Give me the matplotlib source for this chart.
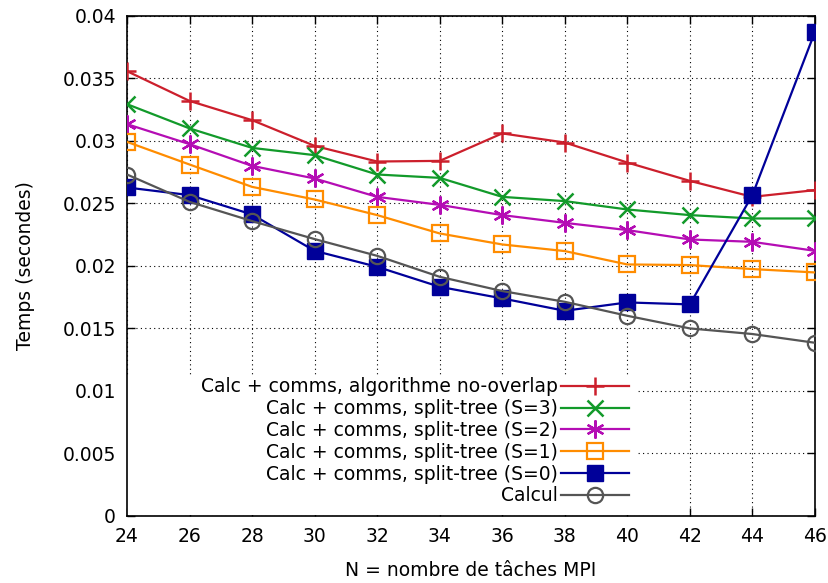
import matplotlib
matplotlib.use("Agg")
import matplotlib.pyplot as plt
from matplotlib.ticker import FixedLocator, FixedFormatter
from matplotlib.patches import Rectangle

n_tasks = [24, 26, 28, 30, 32, 34, 36, 38, 40, 42, 44, 46]

no_overlap = [0.03558, 0.0332, 0.03166, 0.0296, 0.02835, 0.0284, 0.0306, 0.02987, 0.02827, 0.0268, 0.02552, 0.02606]
split_s3 = [0.03294, 0.0310, 0.02944, 0.02886, 0.02731, 0.02704, 0.02552, 0.02518, 0.02451, 0.02406, 0.02379, 0.02379]
split_s2 = [0.03134, 0.02974, 0.0280, 0.02699, 0.02552, 0.02488, 0.02406, 0.02344, 0.02286, 0.02211, 0.02192, 0.0212]
split_s1 = [0.02992, 0.02811, 0.02632, 0.02531, 0.02406, 0.02259, 0.02171, 0.02118, 0.02011, 0.02006, 0.01974, 0.01947]
split_s0 = [0.02627, 0.02566, 0.02411, 0.0212, 0.01992, 0.01832, 0.01739, 0.0164, 0.01707, 0.01691, 0.02566, 0.03872]
calcul = [0.02731, 0.02512, 0.02358, 0.02214, 0.0208, 0.01912, 0.01798, 0.01712, 0.016, 0.01499, 0.01454, 0.01384]

labels = [
    "Calc + comms, algorithme no-overlap",
    "Calc + comms, split-tree (S=3)",
    "Calc + comms, split-tree (S=2)",
    "Calc + comms, split-tree (S=1)",
    "Calc + comms, split-tree (S=0)",
    "Calcul",
]

x_ticks = [24, 26, 28, 30, 32, 34, 36, 38, 40, 42, 44, 46]
y_ticks = [0, 0.005, 0.01, 0.015, 0.02, 0.025, 0.03, 0.035, 0.04]
y_tick_labels = ["0", "0.005", "0.01", "0.015", "0.02", "0.025", "0.03", "0.035", "0.04"]

FS = 13.5
plt.rcParams['font.family'] = ['DejaVu Sans']
fig = plt.figure(figsize=(8.29, 5.83), dpi=100)
ax = fig.add_axes([0.1532, 0.1155, 0.983 - 0.1532, 0.9726 - 0.1155])

series = [no_overlap, split_s3, split_s2, split_s1, split_s0, calcul]
colors = ['#cc1f2c', '#129a2a', '#b40db4', '#ff8c00', '#000099', '#555555']
styles = [
    dict(marker='+', markersize=13, markeredgewidth=1.8),
    dict(marker='x', markersize=11, markeredgewidth=1.8),
    dict(marker=(6, 2, 0), markersize=13, markeredgewidth=1.6),
    dict(marker='s', markersize=11, markeredgewidth=1.6, markerfacecolor='none'),
    dict(marker='s', markersize=11, markeredgewidth=1.0),
    dict(marker='o', markersize=11, markeredgewidth=1.6, markerfacecolor='none'),
]

for i, (ys, c, st, lab) in enumerate(zip(series, colors, styles, labels)):
    ax.plot(n_tasks, ys, color=c, lw=1.6, label=lab, zorder=3 + i, **st)

ax.set_xlim(24, 46)
ax.set_ylim(0, 0.04)
ax.xaxis.set_major_locator(FixedLocator(x_ticks))
ax.yaxis.set_major_locator(FixedLocator(y_ticks))
ax.yaxis.set_major_formatter(FixedFormatter(y_tick_labels))
ax.tick_params(direction='in', top=True, right=True, length=6, width=1, labelsize=FS, pad=8)
ax.grid(True, linestyle=(0, (1, 3)), color='black', lw=0.8)
for s in ax.spines.values():
    s.set_linewidth(1.2)

# white key area (hides grid behind the key, like the original)
ax.add_patch(Rectangle((127 / 829, 1 - 515 / 583), (638 - 127) / 829, (515 - 377) / 583,
                       transform=fig.transFigure, facecolor='white', edgecolor='none', zorder=2))

ax.set_xlabel("N = nombre de tâches MPI", fontsize=FS, labelpad=11)
ax.set_ylabel("Temps (secondes)", fontsize=FS, labelpad=20)

leg = ax.legend(loc='center right', bbox_to_anchor=(629 / 829, 1 - 441.3 / 583),
                bbox_transform=fig.transFigure, markerfirst=False, fontsize=FS,
                handlelength=3.6, handletextpad=0.2, labelspacing=0.15,
                borderpad=0.0, borderaxespad=0, frameon=True, fancybox=False,
                framealpha=1, edgecolor='none', facecolor='white')
leg.set_zorder(20)

fig.savefig("out.png", dpi=100)
